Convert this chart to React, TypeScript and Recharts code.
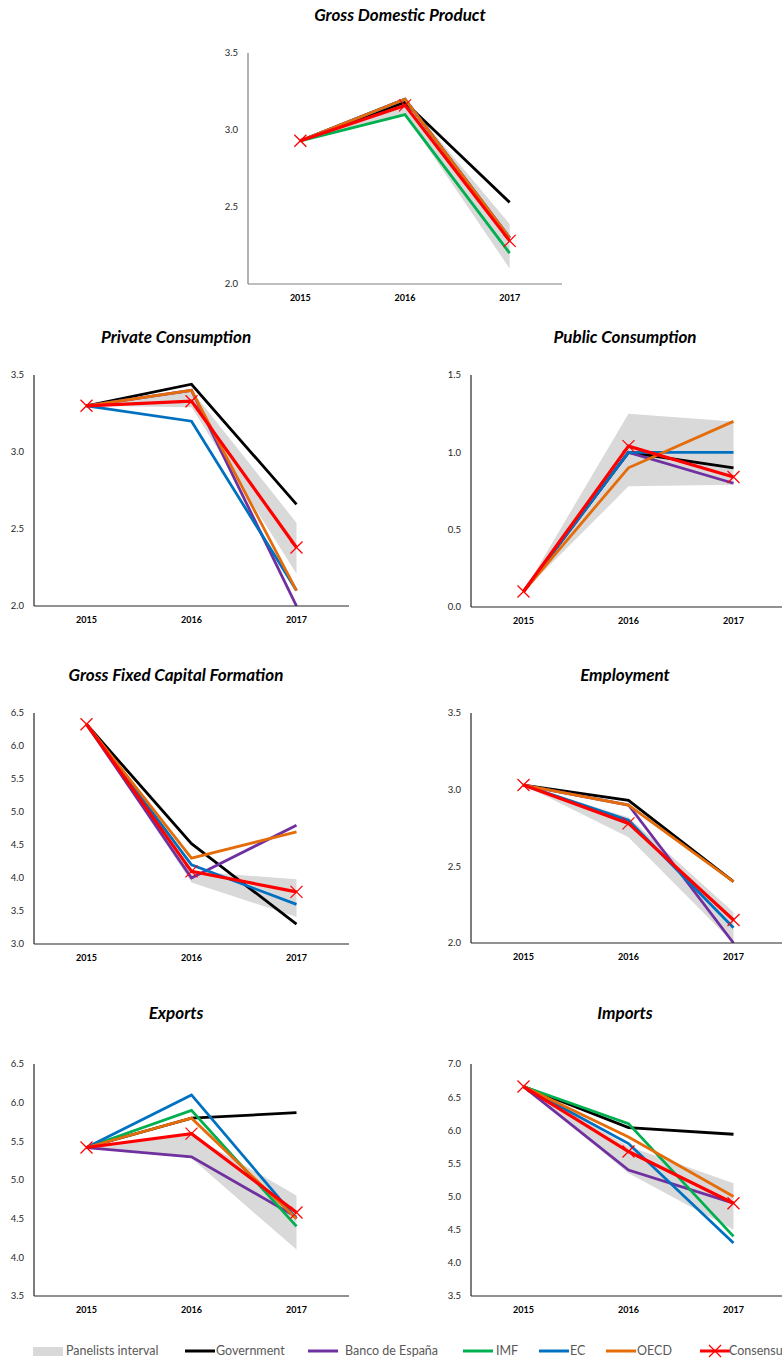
import { Area, ComposedChart, Line, XAxis, YAxis } from 'recharts'

const FONT = 'Lato, "Open Sans", sans-serif'

const YEARS = ['2015', '2016', '2017']

// Gross Domestic Product
const gdpLow = [2.93, 3.1, 2.1]
const gdpHigh = [2.93, 3.2, 2.39]
const gdpGov = [2.93, 3.18, 2.53]
const gdpBde = [2.93, 3.2, 2.3]
const gdpImf = [2.93, 3.1, 2.2]
const gdpEc = [2.93, 3.2, 2.3]
const gdpOecd = [2.93, 3.2, 2.3]
const gdpCons = [2.93, 3.16, 2.28]

// Private Consumption
const pcLow = [3.3, 3.29, 2.21]
const pcHigh = [3.3, 3.4, 2.54]
const pcGov = [3.3, 3.44, 2.66]
const pcBde = [3.3, 3.4, 2.0]
const pcImf = [null, null, null]
const pcEc = [3.3, 3.2, 2.1]
const pcOecd = [3.3, 3.4, 2.1]
const pcCons = [3.3, 3.33, 2.38]

// Public Consumption
const pubLow = [0.1, 0.78, 0.79]
const pubHigh = [0.1, 1.25, 1.2]
const pubGov = [0.1, 1.0, 0.9]
const pubBde = [0.1, 1.0, 0.8]
const pubImf = [null, null, null]
const pubEc = [0.1, 1.0, 1.0]
const pubOecd = [0.1, 0.9, 1.2]
const pubCons = [0.1, 1.04, 0.84]

// Gross Fixed Capital Formation
const gfcfLow = [6.33, 3.93, 3.41]
const gfcfHigh = [6.33, 4.1, 3.98]
const gfcfGov = [6.33, 4.52, 3.3]
const gfcfBde = [6.33, 4.0, 4.8]
const gfcfImf = [null, null, null]
const gfcfEc = [6.33, 4.2, 3.6]
const gfcfOecd = [6.33, 4.3, 4.7]
const gfcfCons = [6.33, 4.1, 3.79]

// Employment
const empLow = [3.03, 2.69, 2.0]
const empHigh = [3.03, 2.82, 2.2]
const empGov = [3.03, 2.93, 2.4]
const empBde = [3.03, 2.9, 2.0]
const empImf = [null, null, null]
const empEc = [3.03, 2.8, 2.1]
const empOecd = [3.03, 2.9, 2.4]
const empCons = [3.03, 2.78, 2.15]

// Exports
const expLow = [5.42, 5.28, 4.1]
const expHigh = [5.42, 5.58, 4.8]
const expGov = [5.42, 5.8, 5.87]
const expBde = [5.42, 5.3, 4.52]
const expImf = [5.42, 5.9, 4.4]
const expEc = [5.42, 6.1, 4.5]
const expOecd = [5.42, 5.8, 4.5]
const expCons = [5.42, 5.6, 4.58]

// Imports
const impLow = [6.66, 5.35, 4.5]
const impHigh = [6.66, 5.76, 5.2]
const impGov = [6.66, 6.04, 5.94]
const impBde = [6.66, 5.4, 4.9]
const impImf = [6.66, 6.1, 4.4]
const impEc = [6.66, 5.8, 4.3]
const impOecd = [6.66, 5.9, 5.0]
const impCons = [6.66, 5.68, 4.9]

const COLORS = {
  band: '#d9d9d9',
  gov: '#000000',
  bde: '#7030a0',
  imf: '#00b050',
  ec: '#0070c0',
  oecd: '#e46c0a',
  cons: '#ff0000',
}

type Vals = (number | null)[]

interface PanelProps {
  title: string
  titleX: number
  titleY: number
  axisX: number
  top: number
  right: number
  bottom: number
  domain: [number, number]
  ticks: number[]
  low: Vals
  high: Vals
  gov: Vals
  bde: Vals
  imf: Vals
  ec: Vals
  oecd: Vals
  cons: Vals
  axisColor?: string
}

const Y_W = 58
const M_TOP = 10
const X_H = 30

function CrossDot(props: any) {
  const { cx, cy, index } = props
  if (cx == null || cy == null) return <g key={`x-${index}`} />
  const s = 6
  return (
    <g key={`x-${index}`}>
      <line x1={cx - s} y1={cy - s} x2={cx + s} y2={cy + s} stroke={COLORS.cons} strokeWidth={1.3} />
      <line x1={cx - s} y1={cy + s} x2={cx + s} y2={cy - s} stroke={COLORS.cons} strokeWidth={1.3} />
    </g>
  )
}

function Panel(p: PanelProps) {
  const left = p.axisX - Y_W
  const ctop = p.top - M_TOP
  const width = p.right - left
  const height = p.bottom - ctop + X_H
  const data = YEARS.map((year, i) => ({
    year,
    band: [p.low[i], p.high[i]],
    gov: p.gov[i],
    bde: p.bde[i],
    imf: p.imf[i],
    ec: p.ec[i],
    oecd: p.oecd[i],
    cons: p.cons[i],
  }))
  const axisColor = p.axisColor ?? '#262626'
  const lines: Array<keyof typeof COLORS> = ['gov', 'bde', 'imf', 'ec', 'oecd']

  return (
    <>
      <div
        style={{
          position: 'absolute',
          left: p.titleX - 200,
          top: p.titleY - 11,
          width: 400,
          lineHeight: '22px',
          textAlign: 'center',
          fontFamily: FONT,
          fontSize: 17,
          fontWeight: 700,
          fontStyle: 'italic',
          color: '#000',
        }}
      >
        {p.title}
      </div>
      <div style={{ position: 'absolute', left, top: ctop }}>
        <ComposedChart width={width} height={height} data={data} margin={{ top: M_TOP, right: 0, bottom: 0, left: 0 }}>
          <XAxis
            dataKey="year"
            scale="band"
            height={X_H}
            tickLine={false}
            axisLine={{ stroke: axisColor, strokeWidth: 1.2 }}
            tickMargin={5}
            tick={{ fontSize: 9, fontWeight: 700, fill: '#000', fontFamily: FONT }}
          />
          <YAxis
            type="number"
            width={Y_W}
            domain={p.domain}
            ticks={p.ticks}
            interval={0}
            allowDataOverflow
            tickLine={false}
            axisLine={{ stroke: axisColor, strokeWidth: 1.2 }}
            tickMargin={4}
            tickFormatter={(v) => Number(v).toFixed(1)}
            tick={{ fontSize: 9.5, fill: '#262626', fontFamily: FONT }}
          />
          <Area
            type="linear"
            dataKey="band"
            fill={COLORS.band}
            fillOpacity={1}
            stroke="none"
            activeDot={false}
            isAnimationActive={false}
          />
          {lines.map((k) => (
            <Line
              key={k}
              type="linear"
              dataKey={k}
              stroke={COLORS[k]}
              strokeWidth={2.8}
              dot={false}
              activeDot={false}
              isAnimationActive={false}
            />
          ))}
          <Line
            type="linear"
            dataKey="cons"
            stroke={COLORS.cons}
            strokeWidth={3.2}
            dot={CrossDot}
            activeDot={false}
            isAnimationActive={false}
          />
        </ComposedChart>
      </div>
    </>
  )
}

function LegendLine({ x, color, cross }: { x: number; color: string; cross?: boolean }) {
  return (
    <svg style={{ position: 'absolute', left: x, top: 1344 }} width={32} height={14}>
      <line x1={0} y1={7} x2={30} y2={7} stroke={color} strokeWidth={3} />
      {cross && (
        <g>
          <line x1={9} y1={1} x2={21} y2={13} stroke={color} strokeWidth={1.3} />
          <line x1={9} y1={13} x2={21} y2={1} stroke={color} strokeWidth={1.3} />
        </g>
      )}
    </svg>
  )
}

function LegendText({ x, text }: { x: number; text: string }) {
  return (
    <div
      style={{
        position: 'absolute',
        left: x,
        top: 1343,
        lineHeight: '16px',
        fontFamily: FONT,
        fontSize: 12.5,
        color: '#595959',
        whiteSpace: 'nowrap',
      }}
    >
      {text}
    </div>
  )
}

export default function App() {
  return (
    <div
      style={{
        position: 'absolute',
        left: 0,
        top: 0,
        width: 782,
        height: 1359,
        overflow: 'hidden',
        background: '#fff',
      }}
    >
      <Panel
        title="Gross Domestic Product"
        titleX={400}
        titleY={15}
        axisX={248}
        top={53}
        right={562}
        bottom={284}
        domain={[2, 3.5]}
        ticks={[2, 2.5, 3, 3.5]}
        low={gdpLow}
        high={gdpHigh}
        gov={gdpGov}
        bde={gdpBde}
        imf={gdpImf}
        ec={gdpEc}
        oecd={gdpOecd}
        cons={gdpCons}
        axisColor="#7f7f7f"
      />
      <Panel
        title="Private Consumption"
        titleX={176}
        titleY={337}
        axisX={34}
        top={375}
        right={349}
        bottom={606}
        domain={[2, 3.5]}
        ticks={[2, 2.5, 3, 3.5]}
        low={pcLow}
        high={pcHigh}
        gov={pcGov}
        bde={pcBde}
        imf={pcImf}
        ec={pcEc}
        oecd={pcOecd}
        cons={pcCons}
      />
      <Panel
        title="Public Consumption"
        titleX={625}
        titleY={337}
        axisX={471}
        top={375}
        right={786}
        bottom={607}
        domain={[0, 1.5]}
        ticks={[0, 0.5, 1, 1.5]}
        low={pubLow}
        high={pubHigh}
        gov={pubGov}
        bde={pubBde}
        imf={pubImf}
        ec={pubEc}
        oecd={pubOecd}
        cons={pubCons}
      />
      <Panel
        title="Gross Fixed Capital Formation"
        titleX={176}
        titleY={675}
        axisX={34}
        top={713}
        right={349}
        bottom={944}
        domain={[3, 6.5]}
        ticks={[3, 3.5, 4, 4.5, 5, 5.5, 6, 6.5]}
        low={gfcfLow}
        high={gfcfHigh}
        gov={gfcfGov}
        bde={gfcfBde}
        imf={gfcfImf}
        ec={gfcfEc}
        oecd={gfcfOecd}
        cons={gfcfCons}
      />
      <Panel
        title="Employment"
        titleX={625}
        titleY={675}
        axisX={471}
        top={713}
        right={786}
        bottom={943}
        domain={[2, 3.5]}
        ticks={[2, 2.5, 3, 3.5]}
        low={empLow}
        high={empHigh}
        gov={empGov}
        bde={empBde}
        imf={empImf}
        ec={empEc}
        oecd={empOecd}
        cons={empCons}
      />
      <Panel
        title="Exports"
        titleX={176}
        titleY={1013}
        axisX={34}
        top={1064}
        right={349}
        bottom={1296}
        domain={[3.5, 6.5]}
        ticks={[3.5, 4, 4.5, 5, 5.5, 6, 6.5]}
        low={expLow}
        high={expHigh}
        gov={expGov}
        bde={expBde}
        imf={expImf}
        ec={expEc}
        oecd={expOecd}
        cons={expCons}
      />
      <Panel
        title="Imports"
        titleX={625}
        titleY={1013}
        axisX={471}
        top={1064}
        right={786}
        bottom={1296}
        domain={[3.5, 7]}
        ticks={[3.5, 4, 4.5, 5, 5.5, 6, 6.5, 7]}
        low={impLow}
        high={impHigh}
        gov={impGov}
        bde={impBde}
        imf={impImf}
        ec={impEc}
        oecd={impOecd}
        cons={impCons}
      />

      <div style={{ position: 'absolute', left: 33, top: 1347, width: 30, height: 9, background: COLORS.band }} />
      <LegendText x={66} text="Panelists interval" />
      <LegendLine x={185} color={COLORS.gov} />
      <LegendText x={216} text="Government" />
      <LegendLine x={308} color={COLORS.bde} />
      <LegendText x={345} text="Banco de España" />
      <LegendLine x={463} color={COLORS.imf} />
      <LegendText x={496} text="IMF" />
      <LegendLine x={539} color={COLORS.ec} />
      <LegendText x={570} text="EC" />
      <LegendLine x={606} color={COLORS.oecd} />
      <LegendText x={637} text="OECD" />
      <LegendLine x={700} color={COLORS.cons} cross />
      <LegendText x={729} text="Consensus" />
    </div>
  )
}
